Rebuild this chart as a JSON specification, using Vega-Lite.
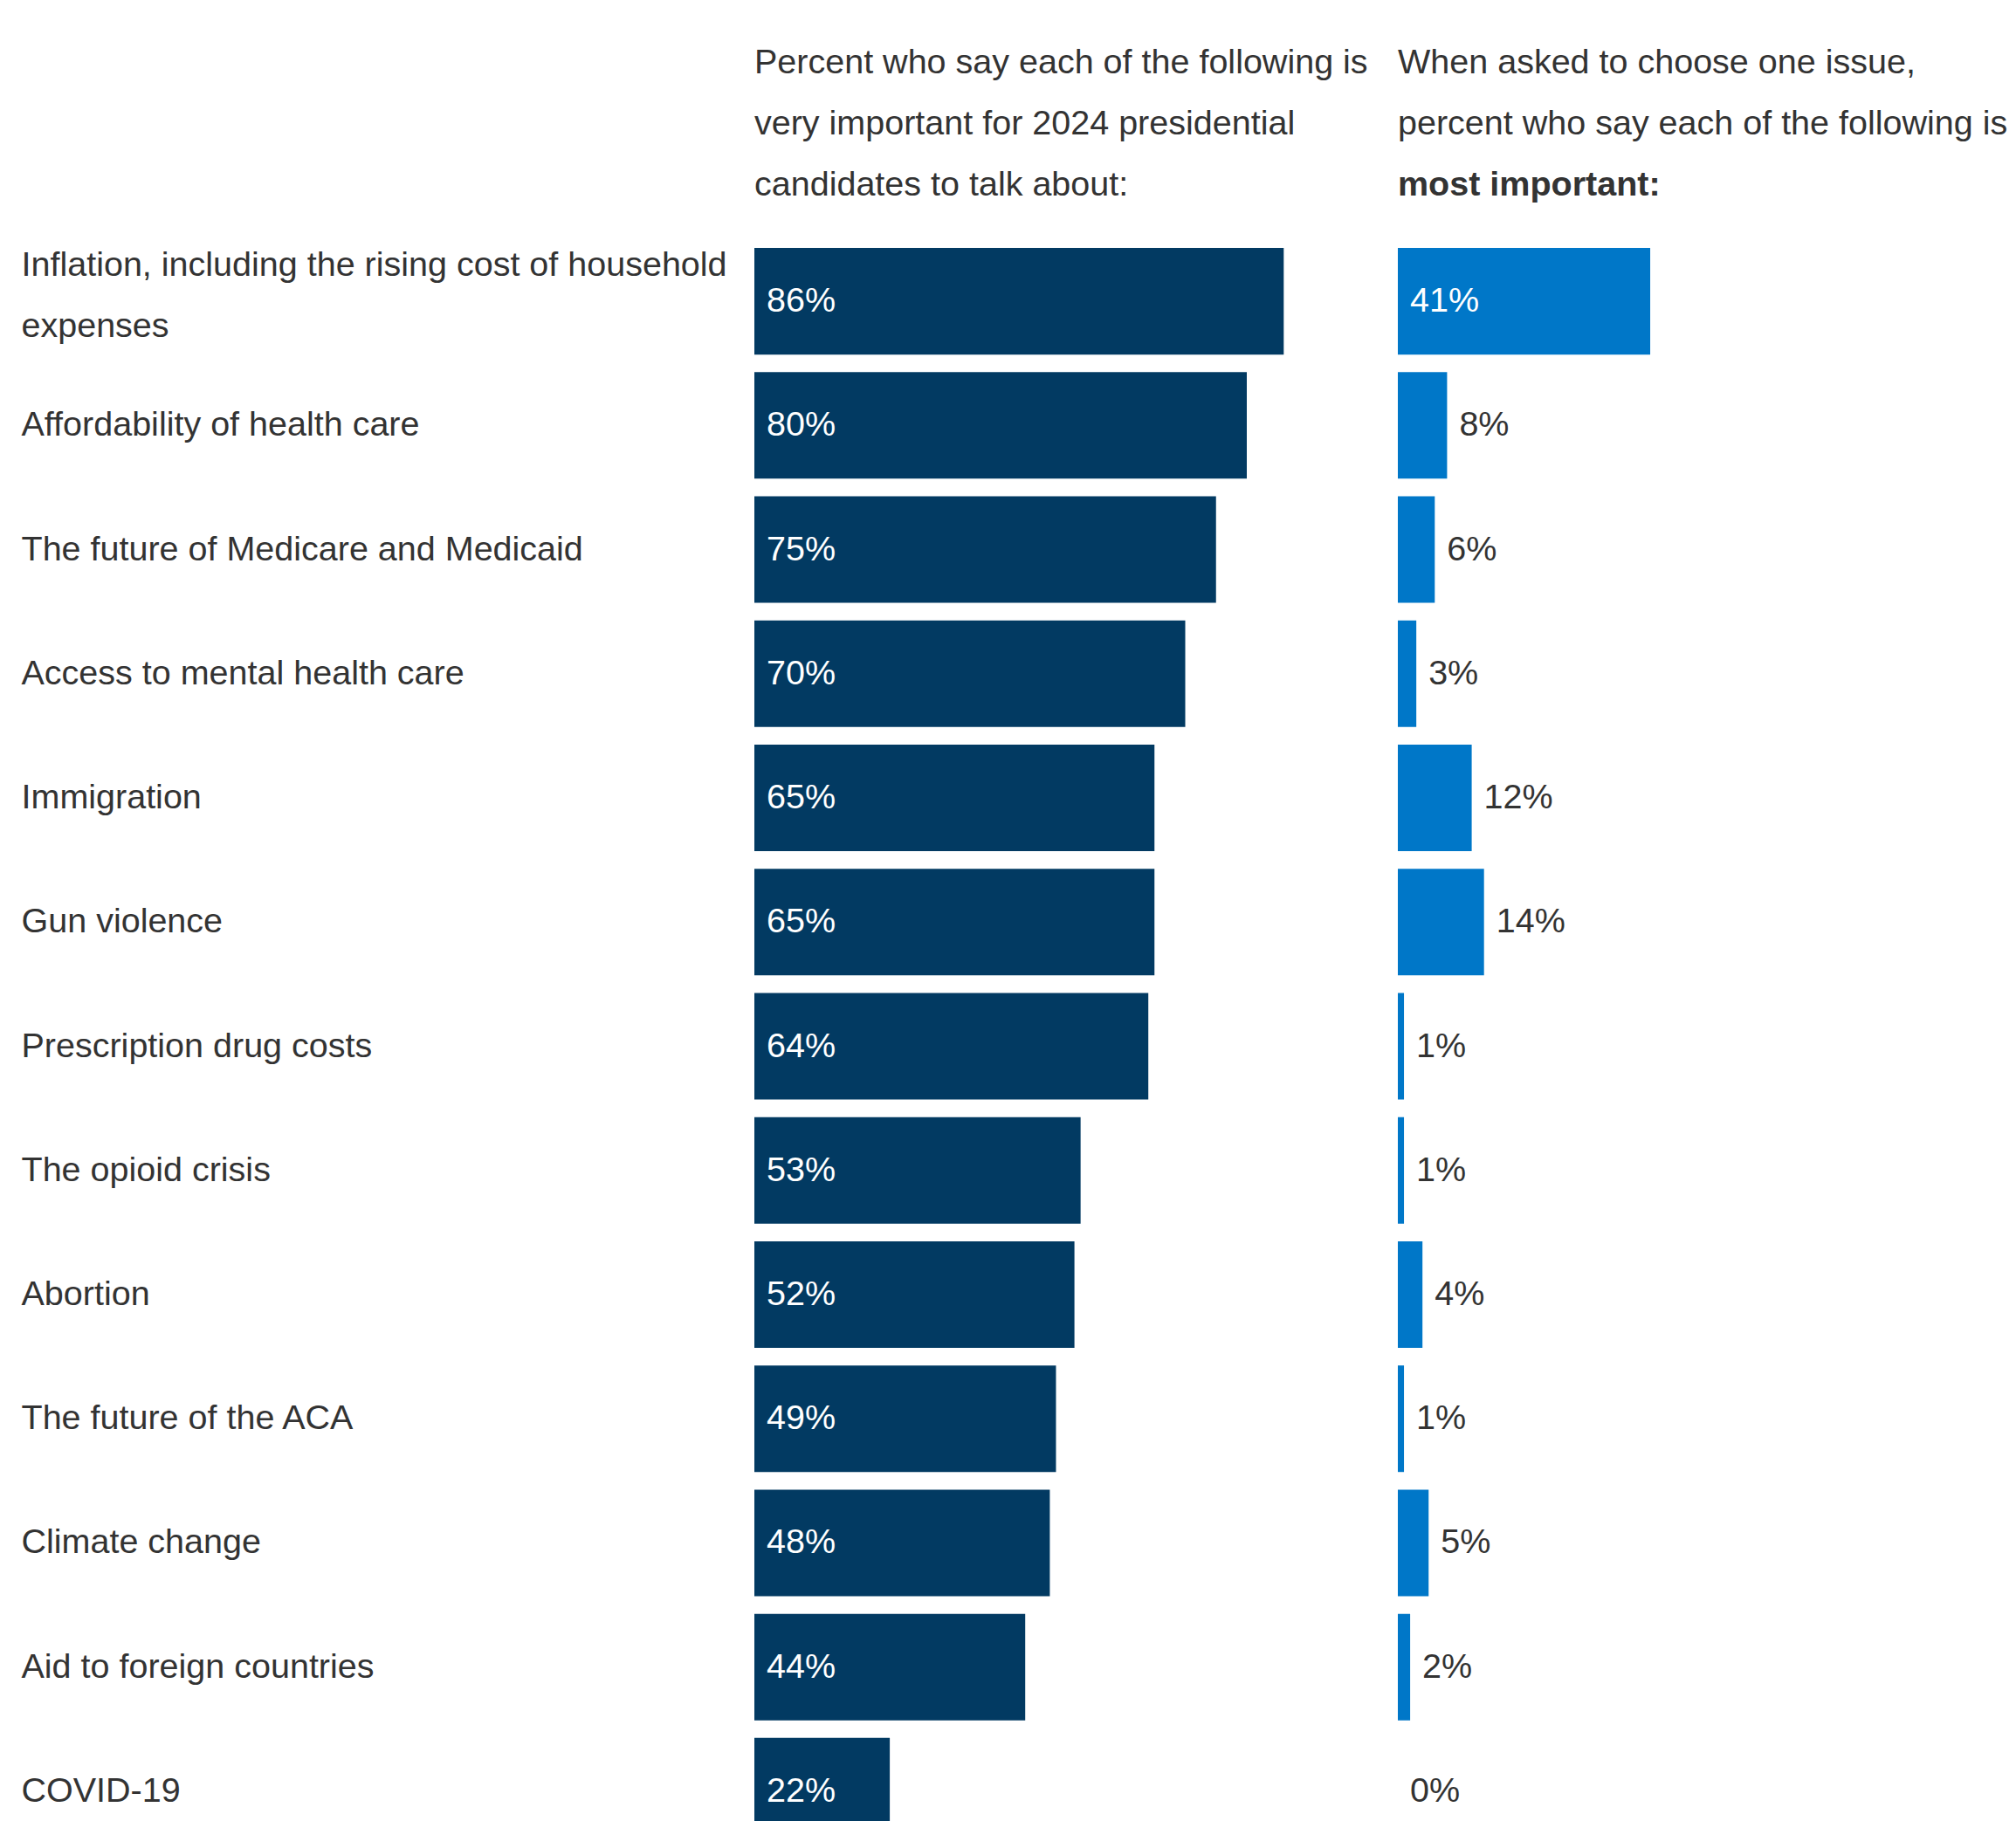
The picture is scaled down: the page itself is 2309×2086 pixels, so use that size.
{
  "$schema": "https://vega.github.io/schema/vega-lite/v6.json",
  "background": "white",
  "padding": {"left": 24, "top": 51, "right": 0, "bottom": 0},
  "config": {
    "font": "Liberation Sans",
    "view": {"stroke": null}
  },
  "data": {
    "values": [
      {"issue": "Inflation, including the rising cost of household expenses", "very": 0.86, "most": 0.41},
      {"issue": "Affordability of health care", "very": 0.80, "most": 0.08},
      {"issue": "The future of Medicare and Medicaid", "very": 0.75, "most": 0.06},
      {"issue": "Access to mental health care", "very": 0.70, "most": 0.03},
      {"issue": "Immigration", "very": 0.65, "most": 0.12},
      {"issue": "Gun violence", "very": 0.65, "most": 0.14},
      {"issue": "Prescription drug costs", "very": 0.64, "most": 0.01},
      {"issue": "The opioid crisis", "very": 0.53, "most": 0.01},
      {"issue": "Abortion", "very": 0.52, "most": 0.04},
      {"issue": "The future of the ACA", "very": 0.49, "most": 0.01},
      {"issue": "Climate change", "very": 0.48, "most": 0.05},
      {"issue": "Aid to foreign countries", "very": 0.44, "most": 0.02},
      {"issue": "COVID-19", "very": 0.22, "most": 0.00}
    ]
  },
  "bounds": "flush",
  "spacing": 32,
  "hconcat": [
    {
      "width": 705,
      "height": 1849,
      "title": {
        "text": ["Percent who say each of the following is", "very important for 2024 presidential", "candidates to talk about:"],
        "anchor": "start",
        "frame": "group",
        "fontSize": 39.5,
        "fontWeight": "normal",
        "lineHeight": 70,
        "color": "#333333",
        "offset": 42
      },
      "encoding": {
        "y": {
          "field": "issue",
          "type": "nominal",
          "sort": null,
          "scale": {"paddingInner": 0.142, "paddingOuter": 0.071},
          "axis": {
            "title": null,
            "domain": false,
            "ticks": false,
            "labelAlign": "left",
            "labelPadding": 840,
            "labelFontSize": 39.5,
            "labelColor": "#333333",
            "labelLimit": 1000,
            "labelLineHeight": 70,
            "labelOffset": {"condition": {"test": "indexof(datum.label, 'household') >= 0", "value": -41}, "value": 0},
            "labelExpr": "split(replace(datum.label, 'household ', 'household|'), '|')"
          }
        }
      },
      "layer": [
        {
          "mark": {"type": "bar", "color": "#023a62"},
          "encoding": {
            "x": {"field": "very", "type": "quantitative", "scale": {"domain": [0, 1]}, "axis": null}
          }
        },
        {
          "mark": {"type": "text", "align": "left", "dx": 14, "color": "white", "fontSize": 39.5},
          "encoding": {
            "x": {"datum": 0, "type": "quantitative"},
            "text": {"field": "very", "type": "quantitative", "format": ".0%"}
          }
        }
      ]
    },
    {
      "width": 705,
      "height": 1849,
      "title": {
        "text": ["When asked to choose one issue,", "percent who say each of the following is"],
        "subtitle": "most important:",
        "anchor": "start",
        "frame": "group",
        "fontSize": 39.5,
        "fontWeight": "normal",
        "lineHeight": 70,
        "color": "#333333",
        "subtitleFontSize": 39.5,
        "subtitleFontWeight": "bold",
        "subtitleColor": "#333333",
        "subtitleLineHeight": 70,
        "subtitlePadding": 30,
        "offset": 42
      },
      "encoding": {
        "y": {
          "field": "issue",
          "type": "nominal",
          "sort": null,
          "scale": {"paddingInner": 0.142, "paddingOuter": 0.071},
          "axis": null
        }
      },
      "layer": [
        {
          "mark": {"type": "bar", "color": "#0077c8"},
          "encoding": {
            "x": {"field": "most", "type": "quantitative", "scale": {"domain": [0, 1]}, "axis": null}
          }
        },
        {
          "transform": [{"filter": "datum.most >= 0.2"}],
          "mark": {"type": "text", "align": "left", "dx": 14, "color": "white", "fontSize": 39.5},
          "encoding": {
            "x": {"datum": 0, "type": "quantitative"},
            "text": {"field": "most", "type": "quantitative", "format": ".0%"}
          }
        },
        {
          "transform": [{"filter": "datum.most < 0.2"}],
          "mark": {"type": "text", "align": "left", "dx": 14, "color": "#333333", "fontSize": 39.5},
          "encoding": {
            "x": {"field": "most", "type": "quantitative"},
            "text": {"field": "most", "type": "quantitative", "format": ".0%"}
          }
        }
      ]
    }
  ]
}
